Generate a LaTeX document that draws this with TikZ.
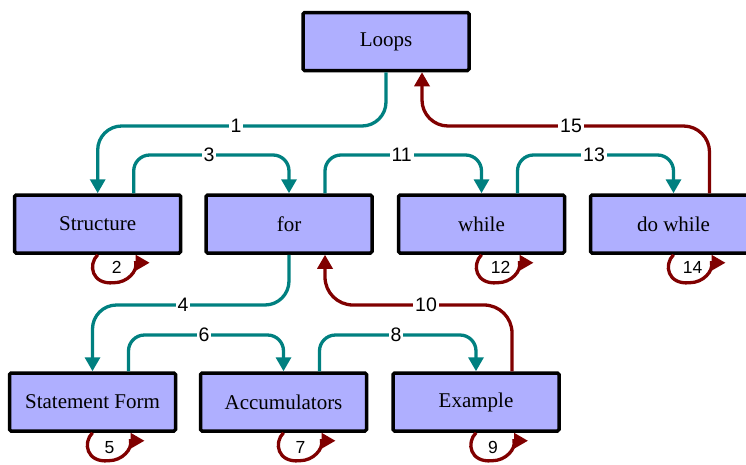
\documentclass[tikz,border=0pt]{standalone}
\usepackage{fontspec}
\setmainfont{Liberation Serif}
\newfontfamily\lblfont{Liberation Sans}
\usetikzlibrary{arrows.meta}
\definecolor{boxfill}{RGB}{175,175,255}
\definecolor{tealc}{RGB}{0,128,128}
\definecolor{redc}{RGB}{128,0,0}
\begin{document}
\begin{tikzpicture}[x=1pt,y=-1pt,
  box/.style={draw=black, fill=boxfill, line width=3.5pt, rounded corners=1.5pt,
    minimum width=166pt, minimum height=58pt, inner sep=0pt,
    font=\fontsize{21}{25}\selectfont},
  tealedge/.style={draw=tealc, line width=3.3pt, -{Triangle[length=14pt,width=15pt]}},
  rededge/.style={draw=redc, line width=3.3pt, -{Triangle[length=14pt,width=15pt]}},
  elabel/.style={fill=white, inner sep=2pt, font=\lblfont\fontsize{19.5}{22}\selectfont},
  llabel/.style={inner sep=0pt, font=\lblfont\fontsize{17.5}{20}\selectfont}]
\useasboundingbox (0,0) rectangle (746,464);

% nodes
\node[box] (loops) at (386,41.5) {Loops};
\node[box] (structure) at (97.7,224) {Structure};
\node[box] (for) at (289,224) {for};
\node[box] (while) at (481.5,224) {while};
\node[box] (dowhile) at (673.5,224) {do while};
\node[box] (statement) at (92.5,402) {Statement Form};
\node[box] (accum) at (283.5,402) {Accumulators};
\node[box] (example) at (476,402) {Example};

% ports
\coordinate (loops-in) at ([xshift=36pt]loops.south);
\coordinate (s-out) at ([xshift=36pt]structure.north);
\coordinate (f-out) at ([xshift=36pt]for.north);
\coordinate (f-in) at ([xshift=36pt]for.south);
\coordinate (w-out) at ([xshift=36pt]while.north);
\coordinate (dw-out) at ([xshift=36pt]dowhile.north);
\coordinate (st-out) at ([xshift=36pt]statement.north);
\coordinate (ac-out) at ([xshift=36pt]accum.north);
\coordinate (ex-out) at ([xshift=36pt]example.north);

% forward edges
\draw[tealedge, rounded corners=24pt] (loops.south) -- (loops.south |- 0,126) -- (structure.north |- 0,126) -- (structure.north);
\draw[tealedge, rounded corners=16pt] (s-out) -- (s-out |- 0,155) -- (for.north |- 0,155) -- (for.north);
\draw[tealedge, rounded corners=16pt] (f-out) -- (f-out |- 0,155) -- (while.north |- 0,155) -- (while.north);
\draw[tealedge, rounded corners=16pt] (w-out) -- (w-out |- 0,155) -- (dowhile.north |- 0,155) -- (dowhile.north);
\draw[tealedge, rounded corners=24pt] (for.south) -- (for.south |- 0,305) -- (statement.north |- 0,305) -- (statement.north);
\draw[tealedge, rounded corners=16pt] (st-out) -- (st-out |- 0,335) -- (accum.north |- 0,335) -- (accum.north);
\draw[tealedge, rounded corners=16pt] (ac-out) -- (ac-out |- 0,335) -- (example.north |- 0,335) -- (example.north);

% back edges
\draw[rededge, rounded corners=26pt] (dw-out) -- (dw-out |- 0,126) -- (loops-in |- 0,126) -- (loops-in);
\draw[rededge, rounded corners=28pt] (ex-out) -- (ex-out |- 0,305) -- (f-in |- 0,305) -- (f-in);

% self loops
\foreach \n in {structure,while,dowhile,statement,accum,example}{
  \draw[rededge] (\n.south) .. controls +(-10,10) and +(-22,2) .. ++(16,28)
     .. controls +(14,0) and +(2,8) .. ++(22,-20) -- ++(14,0);
}

% edge labels
\node[elabel] (l1) at (236,126) {1};
\node[elabel] (l15) at (571,126) {15};
\node[elabel] (l3) at (209,155) {3};
\node[elabel] (l11) at (401.7,155) {11};
\node[elabel] (l13) at (594,155) {13};
\node[elabel] (l4) at (183,305) {4};
\node[elabel] (l10) at (426,305) {10};
\node[elabel] (l6) at (204,335) {6};
\node[elabel] (l8) at (396,335) {8};

% loop labels
\node[llabel] (l2) at ([shift={(19,13)}]structure.south) {2};
\node[llabel] (l12) at ([shift={(19,13)}]while.south) {12};
\node[llabel] (l14) at ([shift={(19,13)}]dowhile.south) {14};
\node[llabel] (l5) at ([shift={(17,15)}]statement.south) {5};
\node[llabel] (l7) at ([shift={(17,15)}]accum.south) {7};
\node[llabel] (l9) at ([shift={(17,15)}]example.south) {9};
\end{tikzpicture}
\end{document}
